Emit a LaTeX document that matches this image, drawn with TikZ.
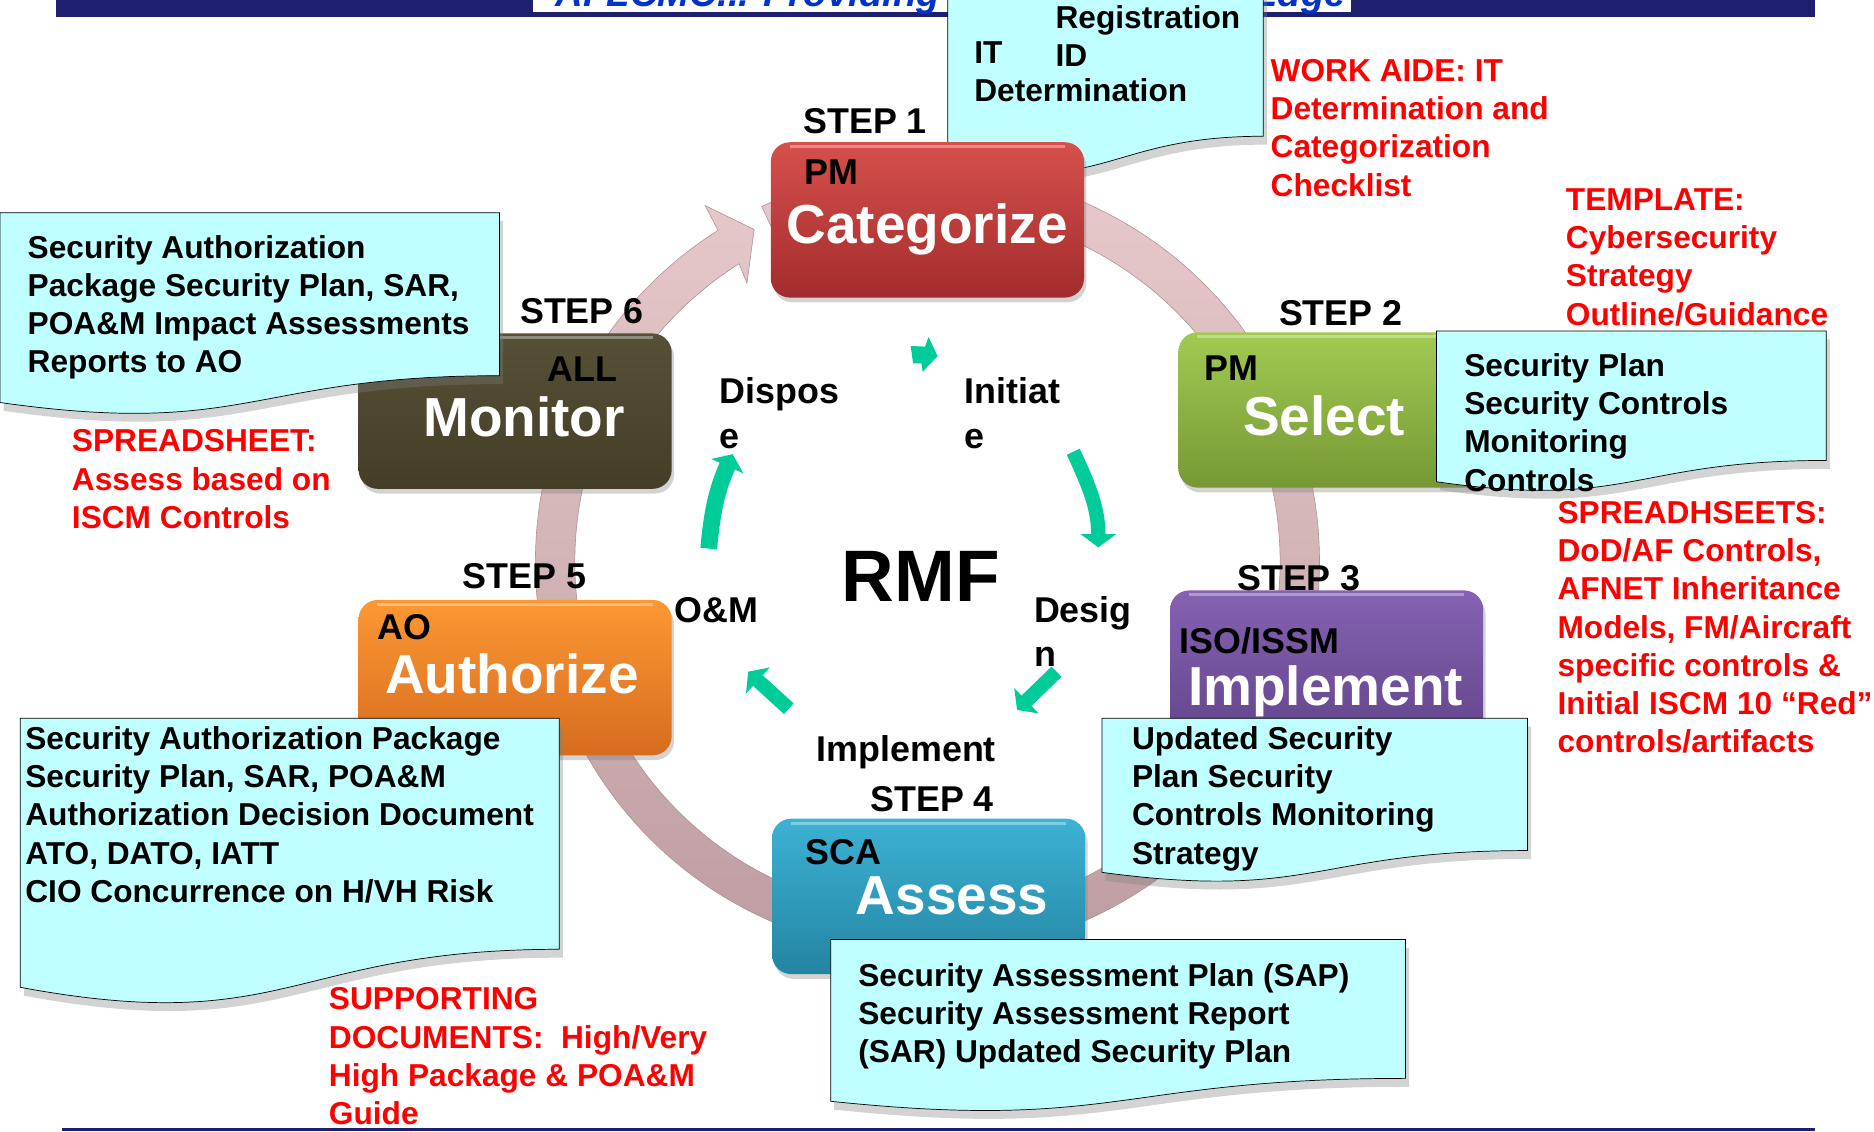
\documentclass[tikz,border=0pt]{standalone}
\usepackage{fontspec}
\setmainfont{Liberation Sans}
\usepackage{tikz}
\usetikzlibrary{arrows.meta,shadows}

\definecolor{navy}{RGB}{31,31,112}
\definecolor{bannerblue}{RGB}{0,51,204}
\definecolor{notecyan}{RGB}{192,255,255}
\definecolor{ringtop}{RGB}{234,204,206}
\definecolor{ringbot}{RGB}{186,154,158}
\definecolor{ringedge}{RGB}{175,145,150}
\definecolor{cyclegreen}{RGB}{0,204,153}
\definecolor{catTop}{RGB}{214,80,76}
\definecolor{catBot}{RGB}{163,44,44}
\definecolor{selTop}{RGB}{162,202,82}
\definecolor{selBot}{RGB}{118,152,52}
\definecolor{impTop}{RGB}{133,98,178}
\definecolor{impBot}{RGB}{98,68,138}
\definecolor{assTop}{RGB}{60,178,212}
\definecolor{assBot}{RGB}{36,132,162}
\definecolor{autTop}{RGB}{252,152,52}
\definecolor{autBot}{RGB}{214,108,30}
\definecolor{monTop}{RGB}{86,80,54}
\definecolor{monBot}{RGB}{68,62,40}

\begin{document}
\begin{tikzpicture}[x=1pt,y=1pt]
	\useasboundingbox (0,0) rectangle (1568,-947);
	\tikzstyle{stepbox}=[rectangle, rounded corners=16pt, minimum width=262pt, minimum height=130pt, drop shadow={shadow xshift=2pt, shadow yshift=-4pt, opacity=.35}]
	\tikzstyle{notepaper}=[fill=notecyan, draw=black, line width=.6pt, drop shadow={shadow xshift=3pt, shadow yshift=-7pt, opacity=.35}]
	\tikzstyle{notetext}=[inner sep=0pt, anchor=base west, align=left, font=\fontsize{26.5}{32}\selectfont\bfseries]
	\tikzstyle{redtext}=[notetext, text=red]
	\tikzstyle{steplabel}=[inner sep=0pt, anchor=base west, align=left, font=\fontsize{30}{37}\selectfont\bfseries]
	\tikzstyle{boxtitle}=[inner sep=0pt, anchor=base west, text=white, font=\fontsize{46}{50}\selectfont\bfseries]
	\tikzstyle{cyclearrow}=[cyclegreen, line width=12pt, -{Triangle[width=29pt,length=11pt]}]

	% banner
	\fill[navy] (47,0) rectangle (1519,-14);
	\fill[white] (446,0) rectangle (1130,-10);
	\node[inner sep=0pt, anchor=base west, text=bannerblue, font=\fontsize{32}{32}\selectfont\bfseries\itshape] (banner) at (465,-5.5) {AFLCMC... Providing the Warfighter's Edge};

	% big ring, ending in the arrow into step 1
	\coordinate (hub) at (776,-470);
	\shadedraw[top color=ringtop, bottom color=ringbot, draw=ringedge, line width=.5pt] ([shift={(122.3:328)}]hub) arc[start angle=122.3, end angle=475, radius=328] -- ([shift={(475:295)}]hub) arc[start angle=475, end angle=122.3, radius=295] -- (625,-237) -- (631,-192) -- (590,-172) -- cycle;

	% note behind step 1 (multi-line nodes sit on their last line)
	\filldraw[notepaper] (793,20) -- (1057,20) -- (1057,-114) .. controls (925,-114) and (925,-165) .. (793,-136) -- cycle;
	\node[notetext] (itReg) at (883,-56) {Registration\\ID};
	\node[notetext] (itTag) at (815,-53) {IT};
	\node[notetext] (itDet) at (815,-85) {Determination};

	% step boxes
	\foreach \b/\x/\y/\ct/\cb in {categorize/776/184/catTop/catBot, select/1117/343/selTop/selBot, implement/1110/559/impTop/impBot, assess/777/750/assTop/assBot, authorize/431/567/autTop/autBot, monitor/431/344/monTop/monBot} {
		\node[stepbox, top color=\ct, bottom color=\cb] (\b) at (\x,-\y) {};
		\draw[white, opacity=.35, line width=2.5pt] ([xshift=16pt,yshift=-4pt]\b.north west) -- ([xshift=-16pt,yshift=-4pt]\b.north east);
	}
	\foreach \b/\x/\y/\who in {categorize/673/154/PM, select/1008/318/PM, implement/987/547/{ISO/ISSM}, assess/674/723/SCA, authorize/316/535/AO, monitor/458/319/ALL}
		\node[steplabel] (\b-who) at (\x,-\y) {\who};
	\foreach \b/\x/\y/\what in {categorize/658/204/Categorize, select/1040/364/Select, implement/994/590/Implement, assess/716/765/Assess, authorize/322/580/Authorize, monitor/354/365/Monitor}
		\node[boxtitle] (\b-what) at (\x,-\y) {\what};
	\foreach \n/\x/\y in {1/672/112, 2/1070/272, 3/1035/494, 4/728/679, 5/387/492, 6/435/271}
		\node[steplabel] (step\n) at (\x,-\y) {STEP \n};

	% life cycle in the middle
	\node[inner sep=0pt, anchor=base west, font=\fontsize{61}{61}\selectfont\bfseries] (rmf) at (704,-503) {RMF};
	\node[steplabel] (dispose) at (602,-375) {Dispos\\e};
	\node[steplabel] (initiate) at (807,-375) {Initiat\\e};
	\node[steplabel] (design) at (865,-558) {Desig\\n};
	\node[steplabel] (om) at (564,-521) {O\&M};
	\node[steplabel] (develop) at (683,-637) {Implement};
	\fill[cyclegreen] (762,-289.5) -- (774,-290) -- (777,-282) -- (784.5,-298) -- (772,-311) -- (771,-304) -- (764,-304) -- cycle;
	\draw[cyclearrow] (898,-378) to[out=-65, in=90] (919,-458);
	\draw[cyclearrow] (884,-562) -- (851,-594);
	\draw[cyclearrow] (660,-593) -- (626,-562);
	\draw[cyclearrow, line width=14pt] (593,-459) to[out=85, in=-114] (613,-380);

	% notes on top of the boxes
	\foreach \x/\y/\w/\h in {0/178/418/170, 1202/277/326/135, 17/601/451/241, 922/601/356/138, 695/786/481/145}
		\filldraw[notepaper] (\x,-\y) -- ({\x+\w},-\y) -- ({\x+\w},{-\y-0.802*\h}) .. controls ({\x+0.5*\w},{-\y-0.802*\h}) and ({\x+0.5*\w},{-\y-1.1075*\h}) .. (\x,{-\y-0.934*\h}) -- cycle;
	\node[notetext] (monNote) at (23,-312) {Security Authorization\\Package Security Plan, SAR,\\POA\&M Impact Assessments\\Reports to AO};
	\node[notetext] (selNote) at (1225,-411) {Security Plan\\Security Controls\\Monitoring\\Controls};
	\node[notetext] (autNote) at (21,-755) {Security Authorization Package\\Security Plan, SAR, POA\&M\\Authorization Decision Document\\ATO, DATO, IATT\\CIO Concurrence on H/VH Risk};
	\node[notetext] (impNote) at (947,-723) {Updated Security\\Plan Security\\Controls Monitoring\\Strategy};
	\node[notetext] (assNote) at (718,-889) {Security Assessment Plan (SAP)\\Security Assessment Report\\(SAR) Updated Security Plan};

	% red hints
	\node[redtext] (workAide) at (1063,-164) {WORK AIDE: IT\\Determination and\\Categorization\\Checklist};
	\node[redtext] (template) at (1310,-272) {TEMPLATE:\\Cybersecurity\\Strategy\\Outline/Guidance};
	\node[redtext] (sheetMon) at (60,-442) {SPREADSHEET:\\Assess based on\\ISCM Controls};
	\node[redtext] (sheetSel) at (1303,-630) {SPREADHSEETS:\\DoD/AF Controls,\\AFNET Inheritance\\Models, FM/Aircraft\\specific controls \&\\Initial ISCM 10 “Red”\\controls/artifacts};
	\node[redtext] (supDocs) at (275,-941) {SUPPORTING\\DOCUMENTS:\ \ High/Very\\High Package \& POA\&M\\Guide};

	\draw[navy, line width=3pt] (52,-945) -- (1519,-945);
\end{tikzpicture}
\end{document}
